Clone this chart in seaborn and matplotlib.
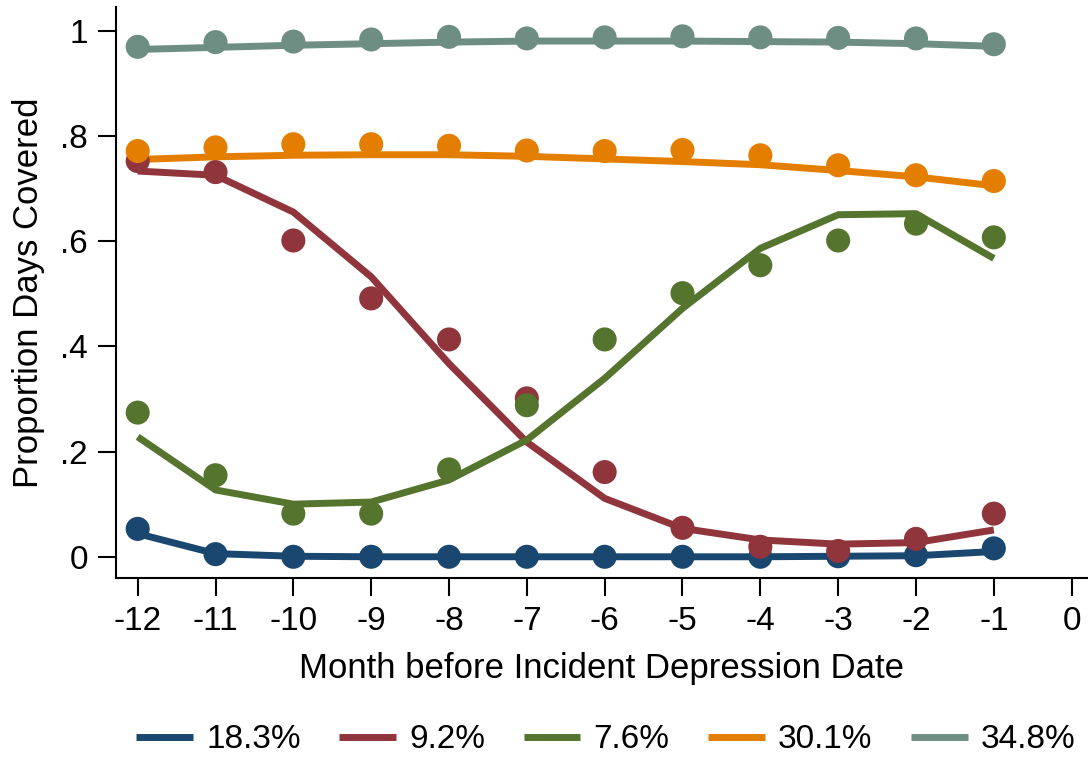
import numpy as np
import pandas as pd
import matplotlib
matplotlib.use("Agg")
import matplotlib.pyplot as plt
import seaborn as sns

# =========================
# Data
# =========================
months = [-12, -11, -10, -9, -8, -7, -6, -5, -4, -3, -2, -1]
groups = ["18.3%", "9.2%", "7.6%", "30.1%", "34.8%"]
colors = ["#1a476f", "#90353b", "#55752f", "#e37e00", "#6e8e84"]

# observed proportions (dots)
obs_183 = [0.053, 0.005, 0.000, 0.000, 0.000, 0.000, 0.000, 0.000, 0.000, 0.001, 0.003, 0.016]
obs_92 = [0.752, 0.731, 0.601, 0.491, 0.413, 0.301, 0.161, 0.055, 0.019, 0.011, 0.034, 0.082]
obs_76 = [0.274, 0.155, 0.082, 0.082, 0.166, 0.288, 0.413, 0.501, 0.554, 0.601, 0.633, 0.607]
obs_301 = [0.771, 0.778, 0.784, 0.784, 0.781, 0.772, 0.771, 0.773, 0.763, 0.744, 0.725, 0.714]
obs_348 = [0.969, 0.978, 0.979, 0.983, 0.988, 0.985, 0.987, 0.989, 0.987, 0.986, 0.985, 0.974]

# fitted trajectories (lines)
fit_183 = [0.044, 0.006, 0.001, 0.000, 0.000, 0.000, 0.000, 0.000, 0.000, 0.001, 0.002, 0.010]
fit_92 = [0.733, 0.725, 0.655, 0.532, 0.367, 0.218, 0.111, 0.054, 0.032, 0.024, 0.027, 0.051]
fit_76 = [0.228, 0.127, 0.100, 0.104, 0.146, 0.222, 0.339, 0.472, 0.586, 0.650, 0.652, 0.567]
fit_301 = [0.755, 0.760, 0.763, 0.764, 0.764, 0.761, 0.756, 0.751, 0.745, 0.734, 0.722, 0.705]
fit_348 = [0.964, 0.968, 0.972, 0.975, 0.978, 0.980, 0.980, 0.980, 0.979, 0.978, 0.975, 0.970]

obs_all = [obs_183, obs_92, obs_76, obs_301, obs_348]
fit_all = [fit_183, fit_92, fit_76, fit_301, fit_348]

rows = []
for g, o, f in zip(groups, obs_all, fit_all):
    for m, ov, fv in zip(months, o, f):
        rows.append({"group": g, "month": m, "obs": ov, "fit": fv})
df = pd.DataFrame(rows)

# =========================
# Plot
# =========================
sns.set_style("white")
plt.rcParams["font.family"] = ["Liberation Sans", "DejaVu Sans"]
plt.rcParams["axes.unicode_minus"] = False
plt.rcParams["text.color"] = "black"
plt.rcParams["axes.labelcolor"] = "black"

FS = 24

fig = plt.figure(figsize=(10.88, 7.62), dpi=100)
ax = fig.add_axes([0.1063, 0.241, 0.8937, 0.750])

handles = []
for g, c in zip(groups, colors):
    sub = df[df["group"] == g]
    sns.lineplot(data=sub, x="month", y="fit", color=c, linewidth=5,
                 ax=ax, legend=False, solid_capstyle="butt")
    handles.append(ax.lines[-1])
    sns.scatterplot(data=sub, x="month", y="obs", color=c, s=300,
                    edgecolor="none", ax=ax, legend=False, zorder=3)

ax.set_xlim(-12.283, 0.21)
ax.set_ylim(-0.041, 1.045)

xt = list(range(-12, 1))
ax.set_xticks(xt)
ax.set_xticklabels([str(v) for v in xt])
yt = [0, 0.2, 0.4, 0.6, 0.8, 1]
ax.set_yticks(yt)
ax.set_yticklabels(["0", ".2", ".4", ".6", ".8", "1"])

ax.tick_params(axis="both", direction="out", length=13, width=1.5,
               labelsize=FS, colors="black", pad=7)
ax.tick_params(axis="both", left=True, bottom=True)

for side in ["top", "right"]:
    ax.spines[side].set_visible(False)
for side in ["left", "bottom"]:
    ax.spines[side].set_color("black")
    ax.spines[side].set_linewidth(1.5)

ax.set_xlabel("Month before Incident Depression Date", fontsize=25,
              labelpad=11, color="black")
ax.set_ylabel("Proportion Days Covered", fontsize=25, labelpad=11,
              color="black")

fig.legend(handles, groups, loc="center", bbox_to_anchor=(0.557, 22 / 762),
           ncol=5, frameon=False, fontsize=FS, handlelength=1.7,
           handletextpad=0.4, columnspacing=1.15, borderpad=0, borderaxespad=0)

plt.savefig("out.png", dpi=100)
